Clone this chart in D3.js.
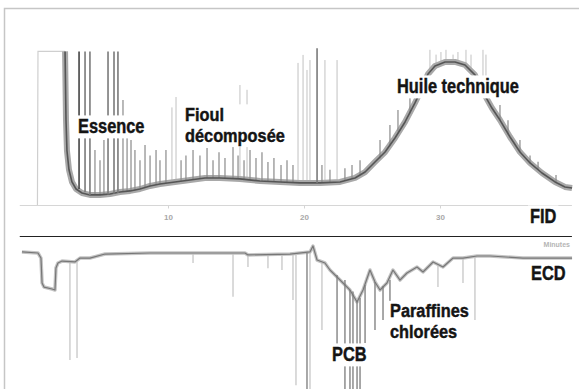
<!DOCTYPE html>
<html>
<head>
<meta charset="utf-8">
<script src="https://cdn.jsdelivr.net/npm/d3@7"></script>
<style>
  html, body { margin: 0; padding: 0; background: #fff; }
  svg { display: block; }
  .lbl { font-family: "Liberation Sans", Arial, Helvetica, sans-serif; font-weight: bold; fill: #141414; stroke: #141414; stroke-width: 0.45px; }
  .tiny { font-family: "Liberation Sans", Arial, sans-serif; font-weight: bold; }
</style>
</head>
<body>
<div id="chart"></div>
<script>
// retention time ticks (minutes)
const tickMinutes = [10, 20, 30];

// FID detector: [minutes, response %]
const fidSolvent = [[0.40, 0], [0.44, 96], [2.43, 96]];
const fidTrace = [
  [2.43, 96], [2.50, 53], [2.57, 34], [2.72, 22], [2.94, 14.4], [3.24, 10], [3.68, 7.5],
  [4.26, 6.3], [5.00, 6.3], [5.74, 6.9], [6.47, 8.1], [7.21, 8.8], [7.94, 10], [8.68, 11.9],
  [9.41, 13.1], [10.51, 14.4], [11.62, 15.6], [12.72, 16.9], [13.82, 16.9], [15.29, 16.3],
  [16.76, 15], [18.24, 14.4], [19.71, 13.8], [21.18, 13.8], [22.65, 14.4], [23.75, 16.9],
  [24.49, 20.6], [25.22, 26.9], [25.96, 33.1], [26.69, 41.9], [27.43, 51.9], [28.16, 63.8],
  [28.68, 73.1], [29.12, 81.9], [29.63, 86.9], [30.37, 89.4], [31.10, 89.4], [31.84, 87.5],
  [32.57, 81.3], [33.16, 70.6], [33.82, 60.6], [34.41, 53.1], [35.15, 42.5], [35.88, 33.1],
  [36.62, 26.3], [37.50, 20], [38.46, 14.4], [39.19, 11.3], [39.71, 10.6]
];
// [minutes, foot, apex]
const fidMajorPeaks = [
  [3.46, 10, 96], [3.90, 8, 96], [4.26, 6.3, 96], [5.59, 6.5, 96], [6.03, 7, 96], [6.32, 7.5, 96],
  [20.96, 13.8, 98]
];
const fidPeaks = [
  [4.63, 6.3, 34.4], [5.00, 6.3, 28], [5.29, 6.5, 40.6], [6.69, 8.1, 65.6], [6.99, 8.4, 53],
  [7.28, 8.8, 40.6], [7.57, 9.2, 34.4], [7.94, 10, 28], [8.31, 11, 37.5], [8.68, 11.9, 31],
  [9.12, 12.5, 34.4], [9.41, 13.1, 28], [9.85, 13.6, 34.4], [10.96, 15, 28], [11.32, 15.3, 31],
  [11.84, 15.8, 34.4], [12.35, 16.4, 31], [12.87, 16.9, 35.6], [13.31, 16.9, 28], [13.75, 16.9, 33],
  [14.19, 16.7, 29.4], [14.78, 16.5, 37.5], [15.15, 16.3, 31], [15.59, 16.1, 28], [16.03, 15.8, 34.4],
  [16.47, 15.3, 29.4], [16.91, 15, 33], [17.35, 14.8, 26.9], [17.79, 14.6, 29.4], [18.31, 14.4, 25],
  [18.75, 14.2, 28], [19.19, 14, 25], [21.32, 13.8, 25], [21.91, 14, 22], [23.01, 15.5, 23],
  [23.53, 16.5, 25], [24.12, 19, 28],
  [25.59, 29, 40.6], [26.32, 37, 50], [26.91, 46, 59.4], [27.79, 57, 70.6], [34.41, 53, 62.5],
  [35.00, 44, 53], [35.88, 33, 40.6], [36.62, 26, 31], [37.21, 22, 27], [38.53, 14, 18.8]
];
const fidMinorPeaks = [
  [10.29, 14, 61], [10.59, 14.4, 67.5], [15.29, 16.3, 75], [15.81, 16, 72], [19.56, 13.8, 88.8],
  [19.93, 13.8, 93.8], [20.22, 13.8, 84.4], [20.44, 13.8, 90.6], [21.54, 13.8, 90.6], [22.43, 14.2, 90.6],
  [29.26, 80, 97], [29.71, 85, 94], [30.07, 88, 95.6], [30.44, 89, 97], [30.96, 89, 94],
  [31.32, 89, 95.6], [31.91, 87, 97], [32.28, 84, 94], [33.16, 70, 97], [33.38, 66, 94]
];

// ECD detector: [minutes, response %]
const ecdTrace = [
  [-0.74, -1.5], [0.44, -2.3], [0.66, -6.2], [0.74, -25.4], [0.88, -28.5], [1.47, -30], [1.69, -30.8],
  [1.76, -13.8], [1.91, -10], [2.21, -8.5], [3.16, -9.2], [3.53, -6.2], [4.26, -6.2], [5.37, -3.1],
  [8.68, -2.3], [15.66, -2.3], [15.88, -3.8], [18.97, -3.1], [20.44, -1.5], [20.66, 3.1],
  [20.96, -7.7], [21.54, -10], [21.91, -15.4], [22.65, -23.1], [23.38, -30.8], [23.90, -40],
  [24.34, -30.8], [24.85, -15.4], [25.22, -24.6], [25.59, -30.8], [26.10, -25.4], [26.54, -15.4],
  [27.06, -23.1], [27.57, -17.7], [28.31, -13.1], [28.75, -16.9], [29.49, -9.2], [30.22, -13.1],
  [30.96, -6.2], [31.69, -6.2], [32.72, -4.6], [33.68, -4.6], [36.10, -6.2], [39.71, -6.2]
];
// [minutes, top, bottom]
const ecdPeaks = [
  [20.22, -2.3, -107], [22.43, -19.2, -87], [23.01, -23, -108], [23.38, -30.8, -108],
  [23.60, -32, -108], [23.90, -40, -108], [24.12, -37, -108], [24.49, -27, -71.5],
  [25.22, -24.6, -61.5], [25.81, -27.7, -53.8], [26.32, -23, -63.8]
];
const ecdMinorPeaks = [
  [2.79, -9.2, -84.6], [3.31, -9.2, -83], [11.84, -2.3, -10], [14.78, -2.3, -36], [15.88, -3.8, -13],
  [17.35, -3.8, -14], [18.38, -3.8, -15.4], [19.19, -3.1, -38.5], [19.41, -3.1, -104],
  [20.44, -2.3, -107], [21.32, -9.2, -61.5], [29.85, -10.8, -28.5], [31.69, -6.2, -25.4],
  [32.57, -4.6, -53.8]
];

const W = 579, H = 389;
const svg = d3.select('#chart').append('svg').attr('width', W).attr('height', H);

// frame
svg.append('rect').attr('x', 4.5).attr('y', 8.5).attr('width', W).attr('height', H)
  .attr('fill', 'none').attr('stroke', '#c6c6c6').attr('stroke-width', 1.5);

const x = d3.scaleLinear().domain([-1, 40]).range([18.4, 576]);
const yFid = d3.scaleLinear().domain([0, 100]).range([205, 45]);
const yEcd = d3.scaleLinear().domain([-110, 20]).range([393, 224]);

const lineFid = d3.line().x(d => x(d[0])).y(d => yFid(d[1]));
const lineEcd = d3.line().x(d => x(d[0])).y(d => yEcd(d[1]));

// FID axis
const xAxis = d3.axisBottom(x).tickValues(tickMinutes).tickSize(3).tickSizeOuter(0).tickFormat(d3.format('d'));
const ax = svg.append('g').attr('transform', 'translate(0,205.5)').call(xAxis);
ax.select('.domain').remove();
ax.selectAll('.tick line').attr('stroke', '#d4d4d4');
ax.selectAll('.tick text').attr('class', 'tiny').attr('font-size', 8).attr('fill', '#a8a8a8').attr('dy', '1.1em');
svg.append('line').attr('x1', x(-0.9)).attr('x2', x(39.7)).attr('y1', 205.5).attr('y2', 205.5)
  .attr('stroke', '#d6d6d6').attr('stroke-width', 1.2);

// FID trace
svg.append('path').datum(fidSolvent).attr('d', lineFid)
  .attr('fill', 'none').attr('stroke', '#cfcfcf').attr('stroke-width', 1.2);
svg.selectAll('line.fmin').data(fidMinorPeaks).join('line').attr('class', 'fmin')
  .attr('x1', d => x(d[0])).attr('x2', d => x(d[0])).attr('y1', d => yFid(d[1])).attr('y2', d => yFid(d[2]))
  .attr('stroke', '#c2c2c2').attr('stroke-width', 1);
svg.append('path').datum(fidTrace).attr('d', lineFid)
  .attr('fill', 'none').attr('stroke', '#a9a9a9').attr('stroke-width', 6).attr('stroke-linejoin', 'round');
svg.selectAll('line.fpk').data(fidPeaks).join('line').attr('class', 'fpk')
  .attr('x1', d => x(d[0])).attr('x2', d => x(d[0])).attr('y1', d => yFid(d[1])).attr('y2', d => yFid(d[2]))
  .attr('stroke', '#8a8a8a').attr('stroke-width', 1.2);
svg.append('path').datum(fidTrace).attr('d', lineFid)
  .attr('fill', 'none').attr('stroke', '#555').attr('stroke-width', 1.6).attr('stroke-linejoin', 'round');
svg.selectAll('line.fmaj').data(fidMajorPeaks).join('line').attr('class', 'fmaj')
  .attr('x1', d => x(d[0])).attr('x2', d => x(d[0])).attr('y1', d => yFid(d[1])).attr('y2', d => yFid(d[2]))
  .attr('stroke', (d, i) => i === 0 ? '#444' : '#7a7a7a').attr('stroke-width', 1.6);

// separator
svg.append('line').attr('x1', x(-0.9)).attr('x2', x(39.7)).attr('y1', 236.5).attr('y2', 236.5)
  .attr('stroke', '#222').attr('stroke-width', 1.2);
svg.append('text').attr('class', 'tiny').attr('x', 570).attr('y', 247).attr('text-anchor', 'end')
  .attr('font-size', 7).attr('fill', '#b5b5b5').text('Minutes');

// ECD trace
svg.selectAll('line.emin').data(ecdMinorPeaks).join('line').attr('class', 'emin')
  .attr('x1', d => x(d[0])).attr('x2', d => x(d[0])).attr('y1', d => yEcd(d[1])).attr('y2', d => yEcd(d[2]))
  .attr('stroke', '#c2c2c2').attr('stroke-width', 1.2);
svg.append('path').datum(ecdTrace).attr('d', lineEcd)
  .attr('fill', 'none').attr('stroke', '#c4c4c4').attr('stroke-width', 3.5).attr('stroke-linejoin', 'round');
svg.selectAll('line.epk').data(ecdPeaks).join('line').attr('class', 'epk')
  .attr('x1', d => x(d[0])).attr('x2', d => x(d[0])).attr('y1', d => yEcd(d[1])).attr('y2', d => yEcd(d[2]))
  .attr('stroke', '#8c8c8c').attr('stroke-width', 1.5);
svg.append('path').datum(ecdTrace).attr('d', lineEcd)
  .attr('fill', 'none').attr('stroke', '#777').attr('stroke-width', 1.2).attr('stroke-linejoin', 'round');

// labels with white boxes; condensed look via horizontal scaling
function label(lines, x0, y0, size, lh, narrow, padR) {
  const g = svg.append('g').attr('transform', `translate(${x0},${y0}) scale(${narrow},1)`);
  const box = g.append('rect').attr('fill', '#fff');
  const t = g.append('text').attr('class', 'lbl').attr('font-size', size);
  lines.forEach((s, i) => t.append('tspan').attr('x', 0).attr('y', i * lh).text(s));
  const b = t.node().getBBox();
  box.attr('x', b.x - 2 / narrow).attr('y', b.y + 1).attr('width', b.width + (2 + padR) / narrow).attr('height', b.height);
}
label(['Essence'], 78, 133, 20, 0, 0.82, 9);
label(['Fioul', 'décomposée'], 185, 120.5, 19, 21.3, 0.86, 11);
label(['Huile technique'], 397, 93, 20, 0, 0.82, 2);
label(['FID'], 530, 223, 20, 0, 0.82, 2);
label(['ECD'], 531, 280, 20, 0, 0.82, 10);
label(['Paraffines', 'chlorées'], 390, 317, 19, 21.3, 0.86, 4);
label(['PCB'], 332, 361, 20, 0, 0.82, 1);
</script>
</body>
</html>
